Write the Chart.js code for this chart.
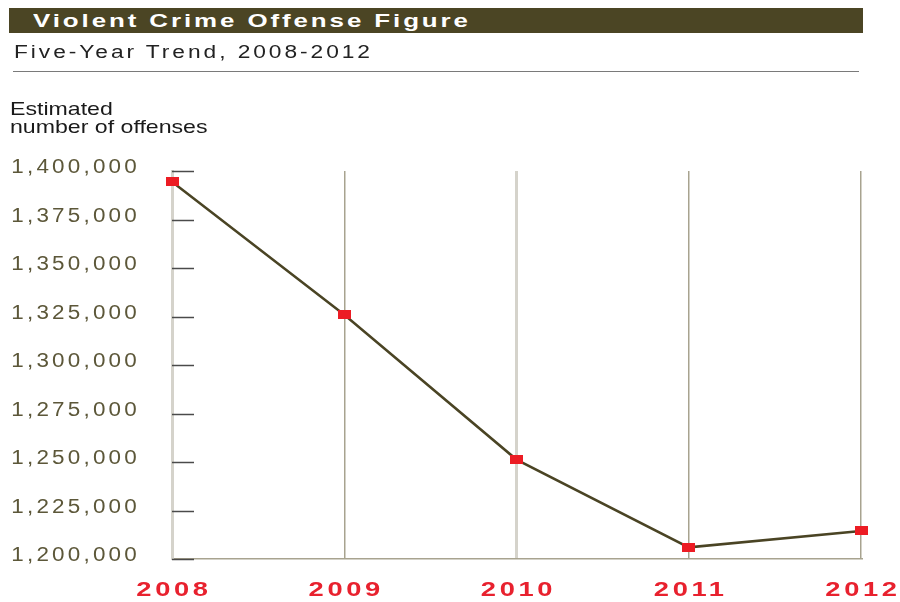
<!DOCTYPE html>
<html>
<head>
<meta charset="utf-8">
<script src="https://cdn.jsdelivr.net/npm/chart.js@4"></script>
<style>
  body { margin: 0; background: #fff; font-family: "Liberation Sans", Arial, sans-serif; }
  .wrap { position: relative; width: 900px; height: 602px; }
  .wrap canvas { position: absolute; left: 0; top: 0; }
  .bar { position: absolute; left: 9px; top: 8px; width: 854px; height: 25px; background: #4b4524; }
  .t { position: absolute; white-space: nowrap; display: inline-block; transform-origin: left top; }
  #title { left: 33px; top: 8px; line-height: 25px; font-size: 18.5px; font-weight: bold; color: #fff; }
  #subtitle { left: 14px; top: 42px; font-size: 17.5px; color: #222; }
  .rule { position: absolute; left: 13px; top: 71px; width: 846px; height: 1px; background: #7a7a7a; }
  #ylab { left: 10px; top: 100px; font-size: 18.5px; line-height: 18px; color: #1a1a1a; }
</style>
</head>
<body>
<div class="wrap">
  <canvas id="chart-1"></canvas>
  <div class="bar"></div>
  <div class="t" id="title">Violent Crime Offense Figure</div>
  <div class="t" id="subtitle">Five-Year Trend, 2008-2012</div>
  <div class="rule"></div>
  <div class="t" id="ylab">Estimated<br>number of offenses</div>
</div>
<script>
const years = ['2008', '2009', '2010', '2011', '2012'];
const offenses = [1394461, 1325896, 1251248, 1206005, 1214462];
const yMin = 1200000;
const yMax = 1400000;
const yStep = 25000;

// stretch the html text like the picture (wide glyphs + spacing)
function fit(id, width, sx){
  const el = document.getElementById(id);
  el.style.transform = `scaleX(${sx})`;
  if(width){
    const nat = el.getBoundingClientRect().width;
    const n = el.textContent.length;
    el.style.letterSpacing = ((width - nat) / sx / (n - 1)) + 'px';
  }
}
fit('title', 435, 1.4);
fit('subtitle', 356, 1.3);
fit('ylab', 0, 1.25);

// red flat marker
const marker = document.createElement('canvas');
marker.width = 13; marker.height = 9;
const mctx = marker.getContext('2d');
mctx.fillStyle = '#ec1c24';
mctx.fillRect(0, 0, 13, 9);

// wide tick text: scaleX around each label anchor + a little spacing
const textStyle = { x: { sx: 1.3, ls: '2.8px' }, y: { sx: 1.15, ls: '2.8px' } };

const tickMarks = {
  id: 'tickMarks',
  afterLayout(chart){
    ['x', 'y'].forEach(id => {
      const s = chart.scales[id];
      if(s._ls) return;
      const orig = s.drawLabels;
      s.drawLabels = function(area){
        const c = this.ctx;
        const fill = c.fillText;
        c.save();
        c.letterSpacing = textStyle[id].ls;
        c.fillText = function(txt, x, y){
          this.save();
          this.translate(x, y);
          this.scale(textStyle[id].sx, 1);
          fill.call(this, txt, 0, 0);
          this.restore();
        };
        orig.call(this, area);
        delete c.fillText;
        c.restore();
      };
      s._ls = true;
    });
  },
  beforeDatasetsDraw(chart){
    const c = chart.ctx, y = chart.scales.y, left = chart.chartArea.left;
    c.save();
    c.strokeStyle = '#4a4a4a';
    c.lineWidth = 1.5;
    y.ticks.forEach(t => {
      const py = Math.round(y.getPixelForValue(t.value)) + 0.5;
      c.beginPath();
      c.moveTo(left, py);
      c.lineTo(left + 22, py);
      c.stroke();
    });
    c.restore();
  }
};

new Chart(document.getElementById('chart-1'), {
  type: 'line',
  data: {
    labels: years,
    datasets: [{
      data: offenses,
      borderColor: '#4a4424',
      borderWidth: 2.5,
      tension: 0,
      pointStyle: marker,
      pointRadius: 6,
      clip: false,
    }]
  },
  options: {
    responsive: true,
    maintainAspectRatio: false,
    animation: false,
    layout: { padding: { top: 171, right: 39, left: 0, bottom: 0 } },
    plugins: {
      legend: { display: false },
      tooltip: { enabled: false }
    },
    scales: {
      x: {
        grid: {
          color: c => (c.index === 0 || c.index === 2) ? '#d5d3cb' : '#a8a38f',
          lineWidth: c => (c.index === 0 || c.index === 2) ? 3 : 1.5,
          drawTicks: false
        },
        border: { color: '#a8a38f', width: 1.5 },
        ticks: {
          color: '#e8212e',
          font: { family: 'Liberation Sans', size: 21, weight: 'bold' },
          padding: 19,
          labelOffset: 2,
          maxRotation: 0
        },
        afterFit(s){ s.height = 43; s.paddingLeft = 0; s.paddingRight = 0; }
      },
      y: {
        min: yMin,
        max: yMax,
        grid: { display: false, drawTicks: false },
        border: { color: '#d5d3cb', width: 3 },
        ticks: {
          stepSize: yStep,
          color: '#5c5739',
          font: { family: 'Liberation Sans', size: 19.5 },
          padding: 32,
          labelOffset: -3,
          callback: v => v.toLocaleString('en-US')
        },
        afterFit(s){ s.width = 172; s.paddingTop = 0; s.paddingBottom = 0; }
      }
    }
  },
  plugins: [tickMarks]
});
</script>
</body>
</html>
